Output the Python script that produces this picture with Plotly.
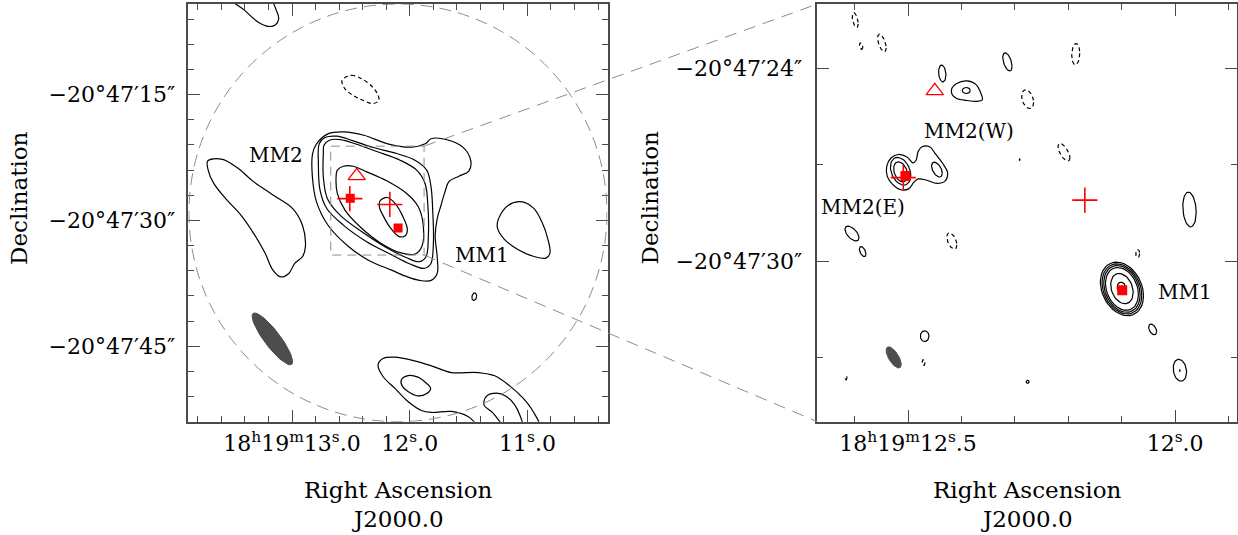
import numpy as np
import plotly.graph_objects as go

FONT = "DejaVu Serif"
FRAME = "#4a4a4a"
GRAY = "#8c8c8c"
RED = "#ff0000"
W, H = 1238, 535

DEC0_DEG = 20.79
SEC_PER_ARCSEC = 1.0 / (15.0 * np.cos(np.deg2rad(DEC0_DEG)))

# ---------------- axes / ticks ----------------
L_RA_RANGE = [13.881, 10.32]
L_DEC_RANGE = [54.0, 4.2]
R_RA_RANGE = [12.670, 11.885]
R_DEC_RANGE = [34.99, 22.0]

L_RA_TICKS = [13.0, 12.0, 11.0]
L_RA_LABELS = ["18<sup>h</sup>19<sup>m</sup>13<sup>s</sup>.0", "12<sup>s</sup>.0", "11<sup>s</sup>.0"]
L_DEC_TICKS = [15, 30, 45]
L_DEC_LABELS = ["−20°47′15″", "−20°47′30″", "−20°47′45″"]
R_RA_TICKS = [12.5, 12.0]
R_RA_LABELS = ["18<sup>h</sup>19<sup>m</sup>12<sup>s</sup>.5", "12<sup>s</sup>.0"]
R_DEC_TICKS = [24, 30]
R_DEC_LABELS = ["−20°47′24″", "−20°47′30″"]

# ---------------- sources ----------------
TRI_RA, TRI_DEC = [12.450], [24.70]
CROSS_RA, CROSS_DEC = [12.509, 12.169], [27.40, 28.10]
SQ_RA, SQ_DEC = [12.505, 12.099], [27.35, 30.90]

# ---------------- left panel contours (RA s, Dec arcsec) ----------------
L_C1 = [(12.792, 20.87), (12.691, 19.65), (12.557, 19.44), (12.389, 19.85), (12.187, 20.87),
        (11.986, 21.27), (11.868, 20.87), (11.818, 20.26), (11.683, 20.38), (11.549, 21.27),
        (11.481, 22.90), (11.498, 24.12), (11.582, 24.73), (11.666, 25.35), (11.700, 26.57),
        (11.734, 28.19), (11.767, 29.82), (11.784, 31.86), (11.767, 34.30), (11.767, 36.33),
        (11.818, 37.15), (11.918, 37.15), (12.019, 36.74), (12.154, 35.93), (12.355, 34.71),
        (12.523, 33.08), (12.691, 30.64), (12.792, 27.79), (12.826, 24.94), (12.826, 22.09)]
L_C2 = [(12.768, 20.84), (12.720, 20.12), (12.620, 19.96), (12.479, 20.52), (12.309, 21.31),
        (12.111, 22.03), (11.955, 22.82), (11.856, 24.01), (11.819, 26.00), (11.805, 28.77),
        (11.799, 32.74), (11.822, 35.20), (11.879, 35.72), (11.997, 35.20), (12.167, 34.01),
        (12.366, 32.54), (12.564, 30.56), (12.705, 28.58), (12.762, 26.39), (12.776, 23.22)]
L_C3 = [(12.728, 21.04), (12.683, 20.44), (12.592, 20.36), (12.451, 20.92), (12.281, 21.79),
        (12.082, 22.82), (11.941, 24.01), (11.870, 25.60), (11.847, 27.98), (11.842, 31.95),
        (11.862, 34.33), (11.918, 34.92), (12.026, 34.45), (12.196, 33.26), (12.394, 31.47),
        (12.592, 29.37), (12.700, 27.38), (12.734, 24.81), (12.734, 22.03)]
L_C4 = [(12.615, 24.01), (12.564, 23.54), (12.479, 23.54), (12.366, 24.21), (12.196, 25.28),
        (12.026, 26.79), (11.927, 28.38), (11.884, 30.76), (11.898, 33.14), (11.955, 34.01),
        (12.082, 33.85), (12.252, 32.66), (12.422, 30.76), (12.550, 28.77), (12.615, 26.79),
        (12.626, 25.00)]
L_C5 = [(12.252, 27.66), (12.190, 27.27), (12.125, 27.98), (12.060, 29.49), (12.020, 31.07),
        (12.040, 31.87), (12.097, 31.87), (12.167, 30.84), (12.224, 29.49), (12.258, 28.38)]
L_WEST = [(13.716, 22.90), (13.599, 22.70), (13.464, 23.72), (13.330, 25.35), (13.162, 26.97),
          (12.994, 28.60), (12.910, 30.64), (12.886, 33.08), (12.910, 34.30), (12.977, 35.11),
          (13.027, 36.33), (13.095, 36.74), (13.162, 35.93), (13.229, 33.89), (13.330, 31.45),
          (13.431, 29.42), (13.565, 27.38), (13.666, 25.55), (13.710, 24.12)]
L_EAST = [(11.246, 29.82), (11.162, 28.19), (11.044, 27.79), (10.944, 28.60), (10.876, 30.23),
          (10.826, 32.26), (10.809, 33.89), (10.843, 34.50), (10.944, 34.30), (11.078, 33.49),
          (11.196, 32.26), (11.256, 30.84)]
L_TOP = [(13.530, 3.38), (13.402, 4.96), (13.289, 6.35), (13.204, 6.87), (13.142, 6.71),
         (13.113, 5.96), (13.133, 4.96), (13.190, 3.38), (13.360, 2.00)]
L_SOUTH1 = [(11.391, 54.77), (11.505, 53.38), (11.646, 52.78), (11.816, 52.90), (11.901, 52.66),
            (12.015, 51.59), (12.128, 50.00), (12.227, 48.61), (12.269, 47.23), (12.227, 46.47),
            (12.128, 46.31), (11.958, 46.75), (11.816, 47.34), (11.646, 48.14), (11.420, 48.14),
            (11.278, 48.53), (11.151, 49.73), (11.037, 51.19), (10.952, 52.78), (10.896, 54.77),
            (11.150, 56.00)]
L_SOUTH2 = [(12.071, 49.01), (12.015, 48.50), (11.930, 48.69), (11.859, 49.41), (11.822, 50.00),
            (11.859, 50.68), (11.930, 50.92), (12.015, 50.40), (12.065, 49.73)]
L_SOUTH3 = [(11.193, 54.77), (11.292, 52.98), (11.369, 51.99), (11.349, 50.99), (11.264, 50.60),
            (11.179, 50.99), (11.108, 51.99), (11.066, 53.18), (11.037, 54.77), (11.115, 56.0)]
L_NEG = [(12.575, 13.30), (12.496, 12.70), (12.411, 13.10), (12.331, 13.89), (12.275, 14.88),
         (12.263, 15.68), (12.312, 16.07), (12.397, 15.68), (12.482, 15.08), (12.552, 14.29)]
# small ellipse contours: (RA, Dec, half-width s, half-height arcsec, tilt deg)
L_SMALL = [(11.452, 39.10, 0.020, 0.45, 100)]

L_POS_POLYS = [L_C1, L_C2, L_C3, L_C4, L_C5, L_WEST, L_EAST, L_TOP, L_SOUTH1, L_SOUTH2, L_SOUTH3]
L_NEG_POLYS = [L_NEG]

# ---------------- right panel contours ----------------
R_MM2 = [(12.540, 27.05), (12.532, 26.79), (12.518, 26.68), (12.502, 26.76), (12.491, 26.94),
         (12.485, 26.86), (12.481, 26.58), (12.473, 26.43), (12.459, 26.45), (12.448, 26.68),
         (12.435, 26.96), (12.426, 27.25), (12.431, 27.51), (12.446, 27.58), (12.465, 27.48),
         (12.481, 27.44), (12.489, 27.54), (12.499, 27.75), (12.515, 27.77), (12.529, 27.61),
         (12.539, 27.36)]
R_W = [(12.418, 24.62), (12.409, 24.47), (12.390, 24.39), (12.373, 24.50), (12.365, 24.72),
       (12.361, 24.98), (12.372, 25.03), (12.390, 25.00), (12.409, 24.94), (12.418, 24.80)]
R_POS_POLYS = [R_MM2, R_W]
# (RA, Dec, half-width s, half-height arcsec, tilt deg); tilt 90 = untilted
R_POS_ELL = [
    (12.514, 27.20, 0.0190, 0.43, 72), (12.514, 27.22, 0.0130, 0.31, 72),
    (12.446, 27.15, 0.0100, 0.23, 60), (12.391, 24.69, 0.0075, 0.093, 90),
    (12.436, 24.16, 0.0069, 0.26, 80), (12.314, 23.80, 0.0087, 0.28, 60),
    (11.973, 28.39, 0.0125, 0.54, 80), (12.605, 29.14, 0.0131, 0.23, 55),
    (12.585, 29.70, 0.0062, 0.155, 60), (12.469, 32.33, 0.0081, 0.165, 90),
    (12.042, 32.12, 0.0075, 0.165, 65), (11.991, 33.39, 0.0125, 0.34, 80),
    (11.991, 33.40, 0.0008, 0.02, 90), (12.276, 33.75, 0.0028, 0.046, 90),
    (12.291, 26.84, 0.0008, 0.02, 90),
    (12.0995, 30.86, 0.0404, 0.833, 75), (12.0995, 30.86, 0.0372, 0.780, 75),
    (12.0995, 30.86, 0.0340, 0.728, 75), (12.0995, 30.86, 0.0308, 0.666, 75),
    (12.0995, 30.85, 0.0210, 0.470, 75), (12.101, 30.80, 0.0075, 0.150, 90),
]
R_NEG_ELL = [
    (12.599, 22.50, 0.0056, 0.23, 60), (12.588, 23.31, 0.0032, 0.10, 70),
    (12.549, 23.21, 0.0080, 0.27, 55), (12.276, 24.96, 0.0112, 0.29, 70),
    (12.186, 23.56, 0.0075, 0.33, 95), (12.208, 26.61, 0.0112, 0.27, 50),
    (12.418, 29.37, 0.0094, 0.25, 60), (12.070, 29.76, 0.0037, 0.124, 90),
    (12.471, 33.15, 0.0028, 0.093, 90), (12.616, 33.63, 0.0015, 0.06, 90),
]

# ---------------- beams / primary beam / zoom box ----------------
L_BEAM = (13.167, 44.13, 7.6, 1.9, 37.0)     # RA, Dec, bmaj", bmin", PA
R_BEAM = (12.527, 32.99, 0.72, 0.27, 25.8)
PB_RA, PB_DEC, PB_RADIUS = 12.10, 29.1, 24.9
BOX_RA = [12.671, 11.878]
BOX_DEC = [21.15, 34.13]

# ---------------- labels ----------------
L_TEXT = [("MM2", 13.136, 22.23), ("MM1", 11.387, 34.13)]
R_TEXT = [("MM2(W)", 12.386, 25.94), ("MM2(E)", 12.585, 28.31), ("MM1", 11.981, 30.97)]

# ---------------- layout geometry ----------------
LX_DOM = [188.3 / W, 607.5 / W]
RX_DOM = [817.3 / W, 1236.5 / W]
Y_DOM = [1 - 421.7 / H, 1 - 4.0 / H]


def to_paper(v, rng, dom):
    return dom[0] + (v - rng[0]) / (rng[1] - rng[0]) * (dom[1] - dom[0])


def ellipse(cra, cdec, rx, ry, tilt, n=48):
    t = np.linspace(0, 2 * np.pi, n)
    return cra - rx * np.cos(t), cdec + ry * np.cos(t - np.deg2rad(tilt))


def beam(cra, cdec, bmaj, bmin, pa, n=60):
    t = np.linspace(0, 2 * np.pi, n)
    a, b, p = bmaj / 2, bmin / 2, np.deg2rad(pa)
    de = a * np.cos(t) * np.sin(p) + b * np.sin(t) * np.cos(p)
    dn = a * np.cos(t) * np.cos(p) - b * np.sin(t) * np.sin(p)
    return cra + de * SEC_PER_ARCSEC, cdec - dn


fig = go.Figure()


def add_poly(pts, xa, ya, dash=None):
    pts = list(pts) + [pts[0]]
    fig.add_trace(go.Scatter(x=[p[0] for p in pts], y=[p[1] for p in pts], xaxis=xa, yaxis=ya,
                             mode="lines", hoverinfo="skip",
                             line=dict(color="black", width=1.2, shape="spline", smoothing=1.0,
                                       dash=dash or "solid")))


def add_ell(e, xa, ya, dash=None):
    x, y = ellipse(*e)
    fig.add_trace(go.Scatter(x=x, y=y, xaxis=xa, yaxis=ya, mode="lines", hoverinfo="skip",
                             line=dict(color="black", width=1.2, dash=dash or "solid")))


NEG_DASH = "4px,3px"
for p in L_POS_POLYS:
    add_poly(p, "x", "y")
for p in L_NEG_POLYS:
    add_poly(p, "x", "y", NEG_DASH)
for e in L_SMALL:
    add_ell(e, "x", "y")
for p in R_POS_POLYS:
    add_poly(p, "x2", "y2")
for e in R_POS_ELL:
    add_ell(e, "x2", "y2")
for e in R_NEG_ELL:
    add_ell(e, "x2", "y2", NEG_DASH)

for bm, xa, ya in [(L_BEAM, "x", "y"), (R_BEAM, "x2", "y2")]:
    bx, by = beam(*bm)
    fig.add_trace(go.Scatter(x=bx, y=by, xaxis=xa, yaxis=ya, mode="lines", fill="toself",
                             fillcolor="#4d4d4d", line=dict(color="#4d4d4d", width=1),
                             hoverinfo="skip"))

# source markers in both panels
for xa, ya, sq in [("x", "y", 9), ("x2", "y2", 10)]:
    fig.add_trace(go.Scatter(x=SQ_RA, y=SQ_DEC, xaxis=xa, yaxis=ya, mode="markers",
                             marker=dict(symbol="square", size=sq, color=RED), hoverinfo="skip"))
    fig.add_trace(go.Scatter(x=CROSS_RA, y=CROSS_DEC, xaxis=xa, yaxis=ya, mode="markers",
                             marker=dict(symbol="cross-thin", size=18, color=RED,
                                         line=dict(color=RED, width=1.6)), hoverinfo="skip"))
    fig.add_trace(go.Scatter(x=TRI_RA, y=TRI_DEC, xaxis=xa, yaxis=ya, mode="markers",
                             marker=dict(symbol="triangle-up-open", size=15, color=RED,
                                         line=dict(color=RED, width=1.3)), hoverinfo="skip"))

shapes = []
r_ra = PB_RADIUS * SEC_PER_ARCSEC
shapes.append(dict(type="circle", xref="x", yref="y", x0=PB_RA + r_ra, x1=PB_RA - r_ra,
                   y0=PB_DEC - PB_RADIUS, y1=PB_DEC + PB_RADIUS,
                   line=dict(color=GRAY, width=1, dash="12px,7px")))
shapes.append(dict(type="rect", xref="x", yref="y", x0=BOX_RA[0], x1=BOX_RA[1],
                   y0=BOX_DEC[0], y1=BOX_DEC[1], line=dict(color=GRAY, width=1, dash="9px,6px")))
for dec_c, yend in [(BOX_DEC[0], Y_DOM[1]), (BOX_DEC[1], Y_DOM[0])]:
    shapes.append(dict(type="line", xref="paper", yref="paper",
                       x0=to_paper(BOX_RA[1], L_RA_RANGE, LX_DOM),
                       y0=to_paper(dec_c, L_DEC_RANGE, Y_DOM),
                       x1=RX_DOM[0], y1=yend, line=dict(color=GRAY, width=1, dash="12px,8px")))

annotations = []
for txt, ra, dec in L_TEXT:
    annotations.append(dict(text=txt, x=ra, y=dec, xref="x", yref="y", showarrow=False,
                            xanchor="center", yanchor="middle",
                            font=dict(family=FONT, size=20, color="black")))
for txt, ra, dec in R_TEXT:
    annotations.append(dict(text=txt, x=ra, y=dec, xref="x2", yref="y2", showarrow=False,
                            xanchor="center", yanchor="middle",
                            font=dict(family=FONT, size=20, color="black")))
for cx in [(LX_DOM[0] + LX_DOM[1]) / 2, (RX_DOM[0] + RX_DOM[1]) / 2]:
    annotations.append(dict(text="Right Ascension", x=cx, y=1 - 490 / H, xref="paper", yref="paper",
                            xanchor="center", yanchor="middle",
                            showarrow=False, font=dict(family=FONT, size=23, color="black")))
    annotations.append(dict(text="J2000.0", x=cx, y=1 - 519 / H, xref="paper", yref="paper",
                            xanchor="center", yanchor="middle",
                            showarrow=False, font=dict(family=FONT, size=23, color="black")))
for px in [19, 649.5]:
    annotations.append(dict(text="Declination", x=px / W, y=1 - 198 / H, xref="paper", yref="paper",
                            xanchor="center", yanchor="middle",
                            textangle=-90, showarrow=False,
                            font=dict(family=FONT, size=23, color="black")))

common = dict(showline=True, linecolor=FRAME, linewidth=1.5, mirror="ticks", ticks="inside",
              tickcolor=FRAME, tickwidth=1.2, showgrid=False, zeroline=False, tickmode="array")
XFONT = dict(family=FONT, size=22, color="black")
YFONT = dict(family=FONT, size=22, color="black")


def minor(vals, ln=6):
    return dict(tickvals=list(vals), ticks="inside", ticklen=ln, tickcolor=FRAME, tickwidth=1.2,
                showgrid=False)


fig.update_layout(
    width=W, height=H, margin=dict(l=0, r=0, t=0, b=0), showlegend=False,
    plot_bgcolor="white", paper_bgcolor="white",
    xaxis=dict(common, domain=LX_DOM, range=L_RA_RANGE, tickvals=L_RA_TICKS, ticktext=L_RA_LABELS,
               ticklen=12, anchor="y", ticklabelstandoff=1, tickfont=XFONT,
               minor=minor(np.round(np.arange(10.4, 13.9, 0.2), 2))),
    yaxis=dict(common, domain=Y_DOM, range=L_DEC_RANGE, tickvals=L_DEC_TICKS, ticktext=L_DEC_LABELS,
               ticklen=12, anchor="x", ticklabelstandoff=7, tickfont=YFONT,
               minor=minor(np.arange(6, 55, 3))),
    xaxis2=dict(common, domain=RX_DOM, range=R_RA_RANGE, tickvals=R_RA_TICKS, ticktext=R_RA_LABELS,
                ticklen=12, anchor="y2", ticklabelstandoff=1, tickfont=XFONT,
                minor=minor(np.round(np.arange(11.9, 12.7, 0.1), 2))),
    yaxis2=dict(common, domain=Y_DOM, range=R_DEC_RANGE, tickvals=R_DEC_TICKS, ticktext=R_DEC_LABELS,
                ticklen=12, anchor="x2", ticklabelstandoff=9, tickfont=YFONT,
                minor=minor([24, 27, 30, 33])),
    shapes=shapes, annotations=annotations,
)

fig.write_html("out.html")
